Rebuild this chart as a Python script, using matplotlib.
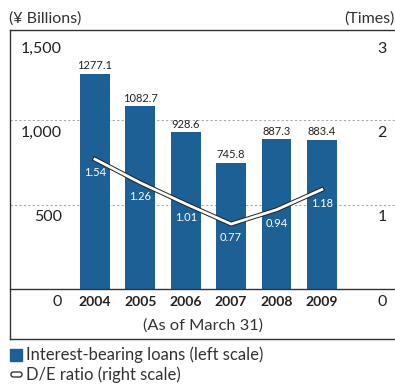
import matplotlib
matplotlib.use('Agg')
import matplotlib.pyplot as plt
import matplotlib.patheffects as pe
from matplotlib.patches import Rectangle, FancyBboxPatch
from matplotlib.lines import Line2D

plt.rcParams['font.family'] = ['Lato', 'DejaVu Sans']

years = ['2004', '2005', '2006', '2007', '2008', '2009']
loans = [1277.1, 1082.7, 928.6, 745.8, 887.3, 883.4]
de_ratio = [1.54, 1.26, 1.01, 0.77, 0.94, 1.18]
left_ticks = [0, 500, 1000, 1500]
left_labels = ['0', '500', '1,000', '1,500']
right_ticks = [0, 1, 2, 3]

blue = '#1c6096'
W, H = 395, 384

fig = plt.figure(figsize=(W / 100, H / 100), dpi=100)

def fx(px):
    return px / W

def fy(py):
    return 1 - py / H

# plotting area: from the zero line up to the top frame line
ax = fig.add_axes([fx(10), fy(289), fx(395) - fx(10), fy(30) - fy(289)])
ax.set_xlim(-1.87, 6.61)
ax.set_ylim(0, 1536)
ax.axis('off')
ax2 = ax.twinx()
ax2.set_ylim(0, 3.072)
ax2.axis('off')

x = list(range(len(years)))

for t in [500, 1000]:
    ax.axhline(t, color='#aaaaaa', lw=0.8, ls=(0, (2, 2)), zorder=0)

ax.bar(x, loans, width=0.66, color=blue, zorder=2)
for xi, v in zip(x, loans):
    ax.annotate(f'{v:.1f}', (xi, v), xytext=(0, 2), textcoords='offset points',
                ha='center', va='bottom', fontsize=8, color='#222222')

ax2.plot(x, de_ratio, color='white', lw=2.0, zorder=3,
         path_effects=[pe.Stroke(linewidth=3.4, foreground='#222222'), pe.Normal()])
for xi, v in zip(x, de_ratio):
    ax2.annotate(f'{v:.2f}', (xi, v), xytext=(0, -6), textcoords='offset points',
                 ha='center', va='top', fontsize=8, color='white', zorder=4)

# tick labels sit just below their gridlines
for t, lab in zip(left_ticks, left_labels):
    ax.annotate(lab, (-0.73, t), xytext=(0, -4), textcoords='offset points',
                ha='right', va='top', fontsize=11.5, color='#222222')
for t in right_ticks:
    ax2.annotate(str(t), (6.32, t), xytext=(0, -4), textcoords='offset points',
                 ha='center', va='top', fontsize=11.5, color='#222222')
for xi, y in zip(x, years):
    ax.annotate(y, (xi, 0), xytext=(0, -5), textcoords='offset points',
                ha='center', va='top', fontsize=10, fontweight='bold', color='#222222')

# frame and zero line
fig.add_artist(Line2D([fx(10), fx(10)], [fy(30), fy(339)], color='#333333', lw=1))
fig.add_artist(Line2D([fx(10), fx(395)], [fy(30), fy(30)], color='#333333', lw=1))
fig.add_artist(Line2D([fx(10), fx(395)], [fy(339), fy(339)], color='#333333', lw=1))
fig.add_artist(Line2D([fx(10), fx(395)], [fy(289), fy(289)], color='#333333', lw=1))

fig.text(fx(9), fy(19), '(¥ Billions)', ha='left', va='center', fontsize=11.5, color='#333333')
fig.text(fx(395), fy(19), '(Times)', ha='right', va='center', fontsize=11.5, color='#333333')
fig.text(fx(203), fy(326), '(As of March 31)', ha='center', va='center', fontsize=11.8, color='#333333')

# legend
fig.add_artist(Rectangle((fx(10), fy(361)), fx(12), fy(349) - fy(361), color=blue,
                         transform=fig.transFigure))
fig.add_artist(FancyBboxPatch((fx(11), fy(377)), fx(11), fy(372) - fy(377),
                              boxstyle='round,pad=0,rounding_size=0.006',
                              facecolor='white', edgecolor='#222222', lw=0.9,
                              transform=fig.transFigure))
fig.text(fx(26), fy(355), 'Interest-bearing loans (left scale)', ha='left', va='center',
         fontsize=12, color='#333333')
fig.text(fx(26), fy(375), 'D/E ratio (right scale)', ha='left', va='center',
         fontsize=12, color='#333333')

plt.savefig('out.png', dpi=100)
